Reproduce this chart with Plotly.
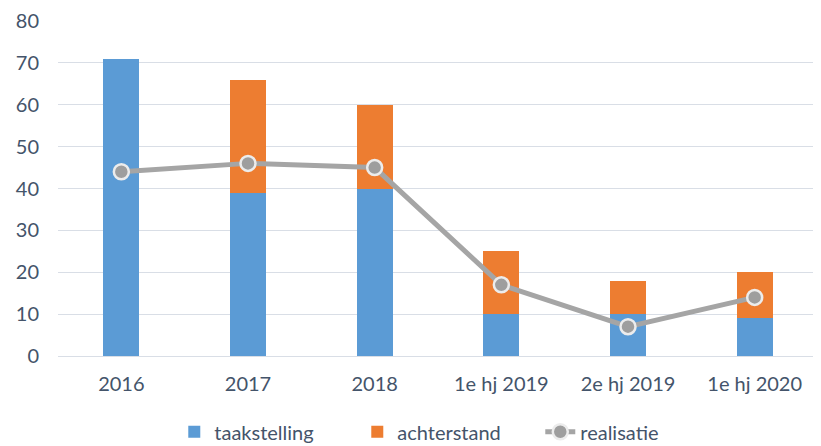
import plotly.graph_objects as go

categories = ["2016", "2017", "2018", "1e hj 2019", "2e hj 2019", "1e hj 2020"]
taakstelling = [71, 39, 40, 10, 10, 9]
achterstand = [0, 27, 20, 15, 8, 11]
realisatie = [44, 46, 45, 17, 7, 14]
y_ticks = [0, 10, 20, 30, 40, 50, 60, 70, 80]

FONT = "Lato"
TXT = "#44546A"

fig = go.Figure()
fig.add_trace(go.Bar(x=categories, y=taakstelling, name="taakstelling",
                     marker=dict(color="#5B9BD5", line=dict(width=0))))
fig.add_trace(go.Bar(x=categories, y=achterstand, name="achterstand",
                     marker=dict(color="#ED7D31", line=dict(width=0))))
fig.add_trace(go.Scatter(x=categories, y=realisatie, name="realisatie", mode="lines+markers",
                         line=dict(color="#A5A5A5", width=5),
                         marker=dict(size=15, color="#9E9E9E", line=dict(color="#ECECEC", width=2.5))))

# page body has an 8px default margin, so the figure is drawn offset by (8, 8)
fig.update_layout(
    width=813, height=438,
    barmode="stack", bargap=0.715,
    paper_bgcolor="white", plot_bgcolor="white",
    margin=dict(l=50, r=3, t=13, b=90, autoexpand=False),
    font=dict(family=FONT, size=20, color=TXT),
    legend=dict(orientation="h", x=0.153, xanchor="left", y=-0.168, yanchor="top",
                font=dict(family=FONT, size=20, color=TXT), itemwidth=30,
                entrywidth=138, traceorder="normal"),
    xaxis=dict(showgrid=False, showline=False, ticks="", tickfont=dict(size=20, color=TXT),
               ticklabelstandoff=14, automargin=False),
    yaxis=dict(range=[0, 80], tickvals=y_ticks, showgrid=True, gridcolor="#D9DEE6", gridwidth=1.3,
               zeroline=True, zerolinecolor="#D9DEE6", zerolinewidth=1.3,
               showline=False, ticks="", tickfont=dict(size=20, color=TXT),
               ticklabelstandoff=18, automargin=False),
)

fig.write_html("out.html")
